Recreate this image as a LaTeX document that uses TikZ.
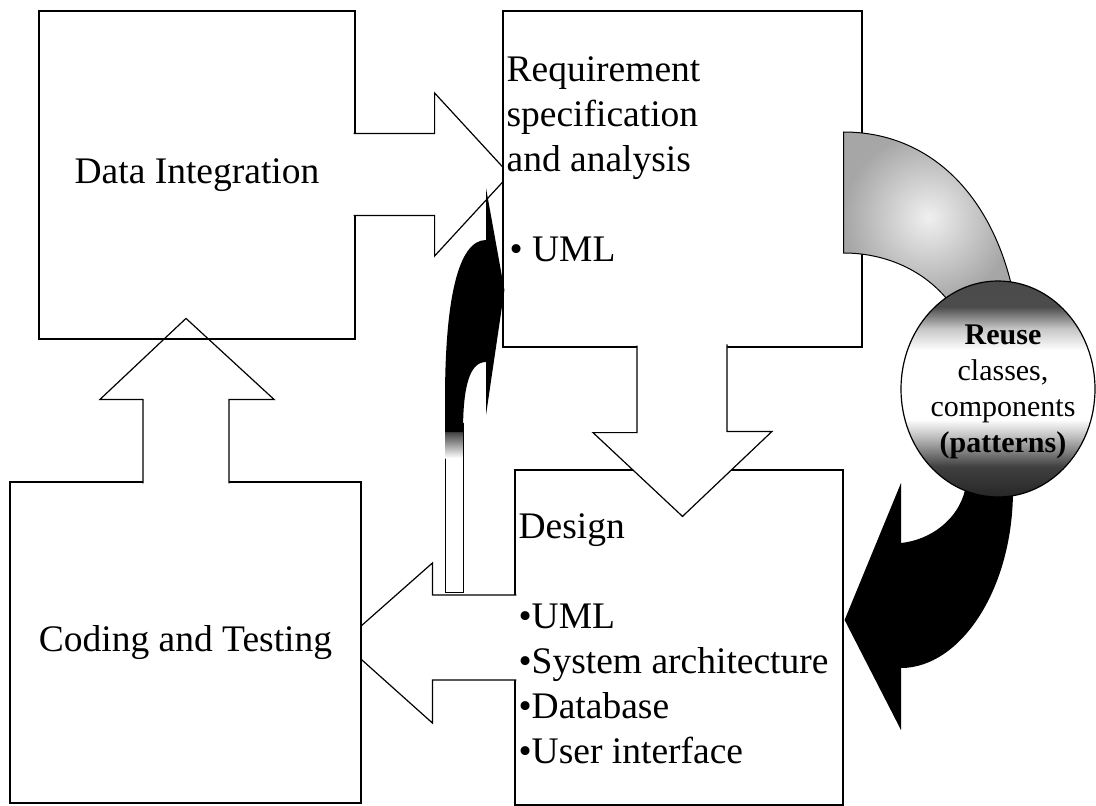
\documentclass[tikz,border=0pt]{standalone}
\usepackage{fontspec}
\setmainfont{Liberation Serif}
\usetikzlibrary{calc,shapes.geometric}

\pgfdeclareverticalshading{reuseshade}{100bp}{color(0bp)=(black!85); color(25bp)=(black!85); color(32bp)=(black!75); color(39bp)=(gray!50); color(43bp)=(white); color(59bp)=(white); color(64bp)=(gray!45); color(69bp)=(black!70); color(100bp)=(black!75)}
\pgfdeclareverticalshading{tailshade}{100bp}{color(0bp)=(white); color(25bp)=(white); color(75bp)=(black); color(100bp)=(black)}

\tikzset{
  stage/.style={draw, line width=1.2pt, rectangle, inner sep=0pt},
  blockarrow/.style={draw, fill=white, line width=1.2pt, line join=miter},
  bigtext/.style={font=\fontsize{37.5}{45}\selectfont, inner sep=0pt},
}

\begin{document}
\begin{tikzpicture}[x=1pt, y=-1pt]
	\useasboundingbox (0,0) rectangle (1096,806);

	\node [stage, fill=white, minimum width=328, minimum height=335](design) at (679,637.5) {};
	\draw [blockarrow] ($(design.west)+(2,-42.5)$) -- ++(-84,0) -- ++(0,-32) -- ($(design.west)+(-172,5)$) -- ++(90,80.5) -- ++(0,-43) -- ++(84,0);

	\node [stage, fill=white, bigtext, minimum width=351, minimum height=321](code) at (185.5,642.5) {Coding and Testing};
	\draw [blockarrow] ($(code.north)+(-42.5,2)$) -- ++(0,-84) -- ++(-43,0) -- ($(code.north)+(0.5,-163)$) -- ++(88,81) -- ++(-45,0) -- ++(0,84);

	\node [stage, bigtext, minimum width=316, minimum height=328](di) at (197,175) {Data Integration};
	\draw [blockarrow] ($(di.east)+(-2,-41.5)$) -- ++(81,0) -- ++(0,-40.5) -- ($(di.east)+(154,-0.5)$) -- ++(-75,81.5) -- ++(0,-40.5) -- ++(-81,0);

	\node [stage, fill=white, minimum width=359, minimum height=336](req) at (682.5,179) {};
	\node [bigtext, anchor=base west](req1) at ($(req.north west)+(4,71)$) {Requirement};
	\node [bigtext, anchor=base west](req2) at ($(req.north west)+(4,116)$) {specification};
	\node [bigtext, anchor=base west](req3) at ($(req.north west)+(4,161)$) {and analysis};
	\node [bigtext, anchor=base west](req4) at ($(req.north west)+(7,251)$) {• UML};

	\draw [blockarrow] ($(req.south)+(-45.5,-2)$) -- ++(0,87) -- ++(-44,0) -- ($(design.north)+(3.5,47)$) -- ++(89.5,-85) -- ++(-45,0) -- ++(0,-87);

	\node [bigtext, anchor=base west](des1) at ($(design.north west)+(4,69)$) {Design};
	\node [bigtext, anchor=base west](des2) at ($(design.north west)+(4,159)$) {•UML};
	\node [bigtext, anchor=base west](des3) at ($(design.north west)+(4,204)$) {•System architecture};
	\node [bigtext, anchor=base west](des4) at ($(design.north west)+(4,249)$) {•Database};
	\node [bigtext, anchor=base west](des5) at ($(design.north west)+(4,294)$) {•User interface};

	% curved arrow back up to the requirements
	\draw [line width=0.8pt, fill=white] (445,423) rectangle (463,592);
	\shade [shading=tailshade] (445.4,423) rectangle (462.6,458);
	\fill (445,432) -- (445,400) .. controls (445,300) and (458,240) .. (486,240) -- (486,188) -- ($(req.west)+(2,111)$) -- (486,415) -- (486,362) .. controls (470,362) and (463,385) .. (463,432) -- cycle;

	% reuse loop
	\path [draw, line width=1pt, shading=radial, inner color=gray!12, outer color=gray!70] ($(req.east)+(-19,-47)$) .. controls (930,132) and (992,195) .. (1013,292) -- (950,303) .. controls (925,270) and (885,253) .. ($(req.east)+(-19,74)$) -- cycle;
	\fill (1013,490) .. controls (1013,590) and (960,668) .. (901,668) -- (901,730) -- ($(design.east)+(1,-17.5)$) -- (901,483) -- (901,543) .. controls (930,540) and (958,520) .. (965,490) -- cycle;

	\node [ellipse, draw, line width=1.2pt, shade, shading=reuseshade, minimum width=194, minimum height=216, inner sep=0pt](reuse) at (998,389) {};
	\node [inner sep=0pt, anchor=base, font=\fontsize{30}{36}\selectfont\bfseries](reuse1) at ($(reuse.center)+(5,-45)$) {Reuse};
	\node [inner sep=0pt, anchor=base, font=\fontsize{30}{36}\selectfont](reuse2) at ($(reuse.center)+(5,-9)$) {classes,};
	\node [inner sep=0pt, anchor=base, font=\fontsize{30}{36}\selectfont](reuse3) at ($(reuse.center)+(5,27)$) {components};
	\node [inner sep=0pt, anchor=base, font=\fontsize{30}{36}\selectfont\bfseries](reuse4) at ($(reuse.center)+(5,63)$) {(patterns)};
\end{tikzpicture}
\end{document}
